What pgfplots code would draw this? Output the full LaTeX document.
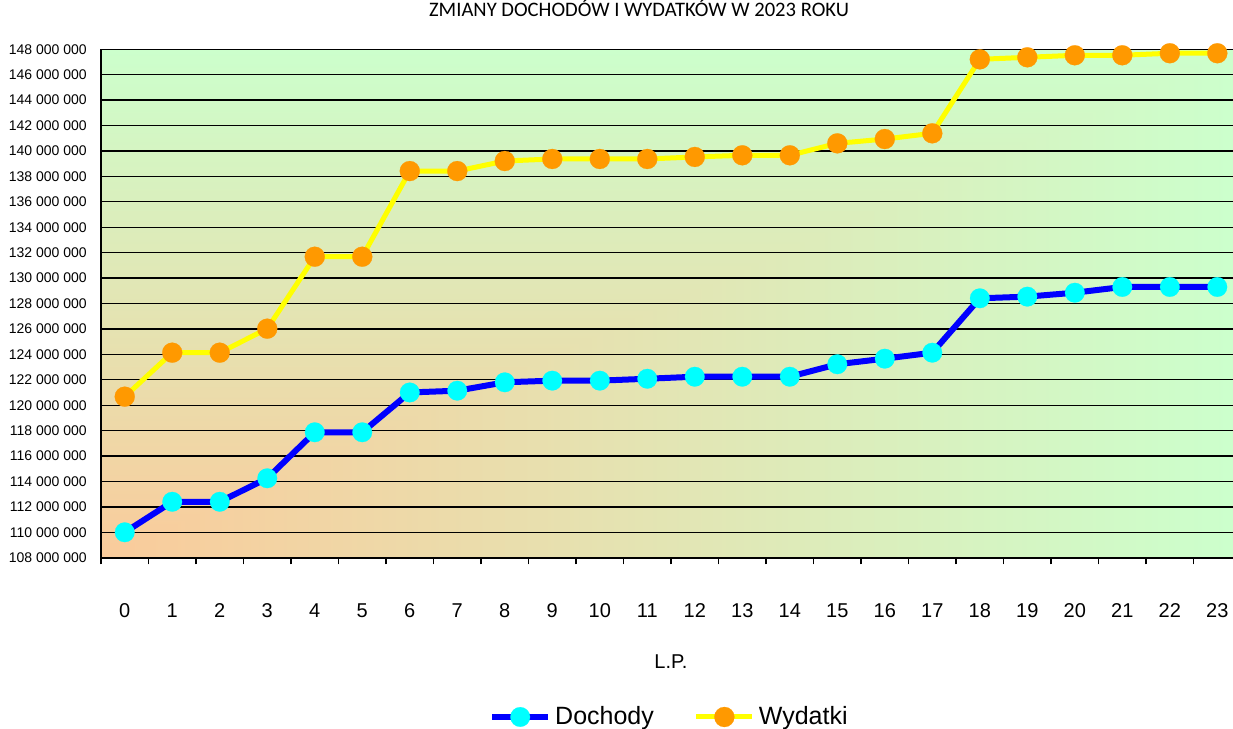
\documentclass[border=0pt]{standalone}
\usepackage{fontspec}
\setmainfont{Liberation Sans}
\newfontfamily\calibri{Carlito}
\usepackage{pgfplots}
\pgfplotsset{compat=1.18}
\definecolor{dblue}{RGB}{0,0,255}
\definecolor{dcyan}{RGB}{0,255,255}
\definecolor{wyel}{RGB}{255,255,0}
\definecolor{worange}{RGB}{255,153,0}
\pgfdeclarefunctionalshading{cornershade}{\pgfpoint{-25bp}{-25bp}}{\pgfpoint{25bp}{25bp}}{}{
  25 add 50 div exch 25 add 50 div
  2 copy lt {exch} if pop
  dup 0 lt {pop 0} if dup 1 gt {pop 1} if
  dup dup
  0.1922 mul 0.608 add
  exch 0.2039 mul 0.796 add
  exch
  3 -1 roll -0.1804 mul 0.980 add
  3 1 roll
}
\begin{document}
\begin{tikzpicture}
\begin{axis}[
  name=ax,
  scale only axis,
  width=566pt, height=254.2pt,
  xmin=-0.5, xmax=23.33,
  ymin=108000000, ymax=148000000,
  axis x line*=bottom, axis y line*=left,
  axis line style={black, line width=1pt},
  clip=false,
  axis background/.style={shade, shading=cornershade},
  ymajorgrids, grid style={black, line width=0.65pt},
  xtick={0,...,23},
  minor xtick={-0.5,0.5,...,22.5},
  major tick length=0pt,
  minor tick length=3.3pt,
  tick align=outside,
  minor tick style={black, line width=0.6pt},
  /pgf/number format/assume math mode=true,
  scaled y ticks=false,
  ytick={108000000,110000000,112000000,114000000,116000000,118000000,120000000,122000000,124000000,126000000,128000000,130000000,132000000,134000000,136000000,138000000,140000000,142000000,144000000,146000000,148000000},
  yticklabels={108 000 000,110 000 000,112 000 000,114 000 000,116 000 000,118 000 000,120 000 000,122 000 000,124 000 000,126 000 000,128 000 000,130 000 000,132 000 000,134 000 000,136 000 000,138 000 000,140 000 000,142 000 000,144 000 000,146 000 000,148 000 000},
  yticklabel style={font=\fontsize{7}{8}\selectfont, xshift=-3.6pt},
  xticklabel style={font=\fontsize{10}{12}\selectfont, anchor=base, yshift=-29.9pt},
  xlabel={L.P.},
  xlabel style={at={(axis description cs:0.5035,0)}, anchor=base, yshift=-55.4pt, font=\fontsize{10}{12}\selectfont},
  title={ZMIANY DOCHODÓW I WYDATKÓW W 2023 ROKU},
  title style={at={(axis description cs:0.4753,1)}, anchor=base, yshift=10.5pt, font=\calibri\fontsize{10.3}{12}\selectfont},
  legend style={at={(axis description cs:0.503,-0.3133)}, anchor=center, draw=none, fill=none, legend columns=2, font=\fontsize{12.5}{15}\selectfont, /tikz/every even column/.append style={column sep=18pt}},
  legend image code/.code={\draw[mark repeat=2,mark phase=2,#1] plot coordinates {(0pt,0pt) (14pt,0pt) (28pt,0pt)};},
]
\addplot[color=dblue, line width=3pt, line join=round, mark=*, mark size=4.9pt, mark options={fill=dcyan, draw=dcyan, line width=0.1pt}] coordinates {
(0,110000000) (1,112400000) (2,112400000) (3,114250000) (4,117870000) (5,117870000)
(6,121000000) (7,121140000) (8,121800000) (9,121930000) (10,121930000) (11,122080000)
(12,122240000) (13,122240000) (14,122240000) (15,123220000) (16,123660000) (17,124130000)
(18,128410000) (19,128540000) (20,128850000) (21,129300000) (22,129300000) (23,129300000)
};
\addlegendentry{Dochody}
\addplot[color=wyel, line width=2.5pt, line join=round, mark=*, mark size=5pt, mark options={fill=worange, draw=worange, line width=0.1pt}] coordinates {
(0,120670000) (1,124130000) (2,124130000) (3,126020000) (4,131680000) (5,131680000)
(6,138420000) (7,138420000) (8,139210000) (9,139370000) (10,139370000) (11,139370000)
(12,139530000) (13,139660000) (14,139660000) (15,140600000) (16,140940000) (17,141390000)
(18,147210000) (19,147370000) (20,147530000) (21,147530000) (22,147690000) (23,147690000)
};
\addlegendentry{Wydatki}
\end{axis}
\pgfresetboundingbox
\path[use as bounding box] ([shift={(-50.5pt,-85.65pt)}]ax.south west) rectangle ([shift={(566pt,278.85pt)}]ax.south west);
\end{tikzpicture}
\end{document}
